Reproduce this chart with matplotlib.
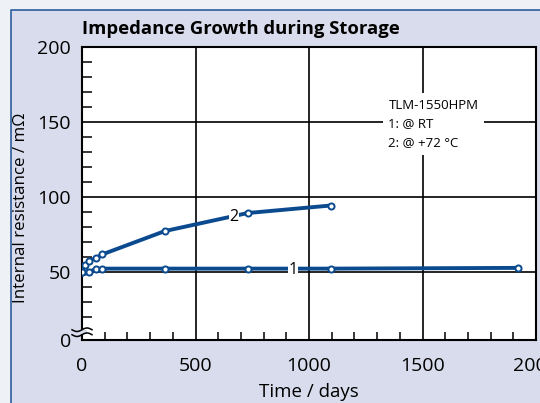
import matplotlib.pyplot as plt
import numpy as np
from matplotlib.patches import Rectangle
from matplotlib.ticker import FixedLocator, MultipleLocator

plt.rcParams["font.family"] = ["Open Sans", "DejaVu Sans"]

# Storage time (days) and internal resistance (mOhm)
days_rt = [0, 14, 30, 60, 90, 365, 730, 1095, 1920]
res_rt = [50, 51, 50.5, 52, 52.5, 52.5, 52.5, 52.5, 53]
days_72 = [0, 14, 30, 60, 90, 365, 730, 1095]
res_72 = [50, 55, 57.5, 59.5, 62, 77.5, 89.5, 94.5]

y_ticks = [5, 50, 100, 150, 200]
y_ticklabels = ["0", "50", "100", "150", "200"]
x_ticks = [0, 500, 1000, 1500, 2000]

blue = "#0b4a8e"
panel = "#d9dcec"

fig = plt.figure(figsize=(5.4, 4.03), dpi=100)
fig.patch.set_facecolor("#eef2f7")
fig.patches.append(Rectangle((11 / 540, 0), 1, 1 - 10 / 403, transform=fig.transFigure,
                             facecolor=panel, edgecolor="none", zorder=-2))
fig.add_artist(plt.Line2D([11 / 540, 11 / 540, 1], [0, 1 - 10 / 403, 1 - 10 / 403],
                          transform=fig.transFigure, color="#2b5c9c", lw=1.2,
                          zorder=-1))

ax = fig.add_axes([82 / 540, 1 - 340 / 403, 454 / 540, 293 / 403])
ax.set_facecolor("white")
ax.set_xlim(0, 2000)
ax.set_ylim(5, 200)

ax.set_xticks(x_ticks)
ax.set_yticks(y_ticks)
ax.set_yticklabels(y_ticklabels)
ax.xaxis.set_minor_locator(MultipleLocator(100))
ax.yaxis.set_minor_locator(FixedLocator([v for v in range(20, 200, 10) if v % 50]))
ax.tick_params(which="major", length=0, labelsize=14)
ax.tick_params(axis="y", which="major", pad=8)
ax.tick_params(axis="x", which="major", pad=12)
ax.tick_params(which="minor", direction="in", length=7, width=1.1, color="black")
ax.tick_params(axis="x", which="minor", length=6)
ax.grid(True, which="major", color="black", lw=1.2)
for s in ax.spines.values():
    s.set_linewidth(1.5)

ax.plot(days_rt, res_rt, color=blue, lw=2.8, marker="o", ms=4.4, mfc="white",
        mec=blue, mew=1.4, zorder=3)
ax.plot(days_72, res_72, color=blue, lw=2.8, marker="o", ms=4.4, mfc="white",
        mec=blue, mew=1.4, zorder=3)

lbl = dict(ha="center", va="center", fontsize=11.5, zorder=4,
           bbox=dict(boxstyle="square,pad=0.05", fc="white", ec="none"))
ax.text(930, 51.5, "1", **lbl)
ax.text(670, 87.0, "2", **lbl)

ax.text(1350, 149, "TLM-1550HPM\n1: @ RT\n2: @ +72 \u00b0C", ha="left", va="center",
        fontsize=9.5, linespacing=1.55, zorder=4,
        bbox=dict(boxstyle="square,pad=0.45", fc="white", ec="none"))

# axis break marks on the y axis
t = np.linspace(-0.022, 0.022, 30)
for y0 in (0.035, 0.018):
    ax.plot(t, y0 + 0.006 * np.sin(t / 0.022 * np.pi), transform=ax.transAxes,
            color="black", lw=1.1, clip_on=False, zorder=5)
ax.add_patch(Rectangle((-0.01, 0.02), 0.02, 0.013, transform=ax.transAxes,
                       fc=panel, ec="none", clip_on=False, zorder=4))

ax.set_xlabel("Time / days", fontsize=13.5, labelpad=6)
ax.set_ylabel("Internal resistance / m\u03a9", fontsize=12.2)
ax.yaxis.set_label_coords(-53 / 454, 0.45)
ax.set_title("Impedance Growth during Storage", fontsize=13.3, fontweight="bold",
             loc="left", pad=9)

fig.savefig("out.png", dpi=100, facecolor=fig.get_facecolor())
